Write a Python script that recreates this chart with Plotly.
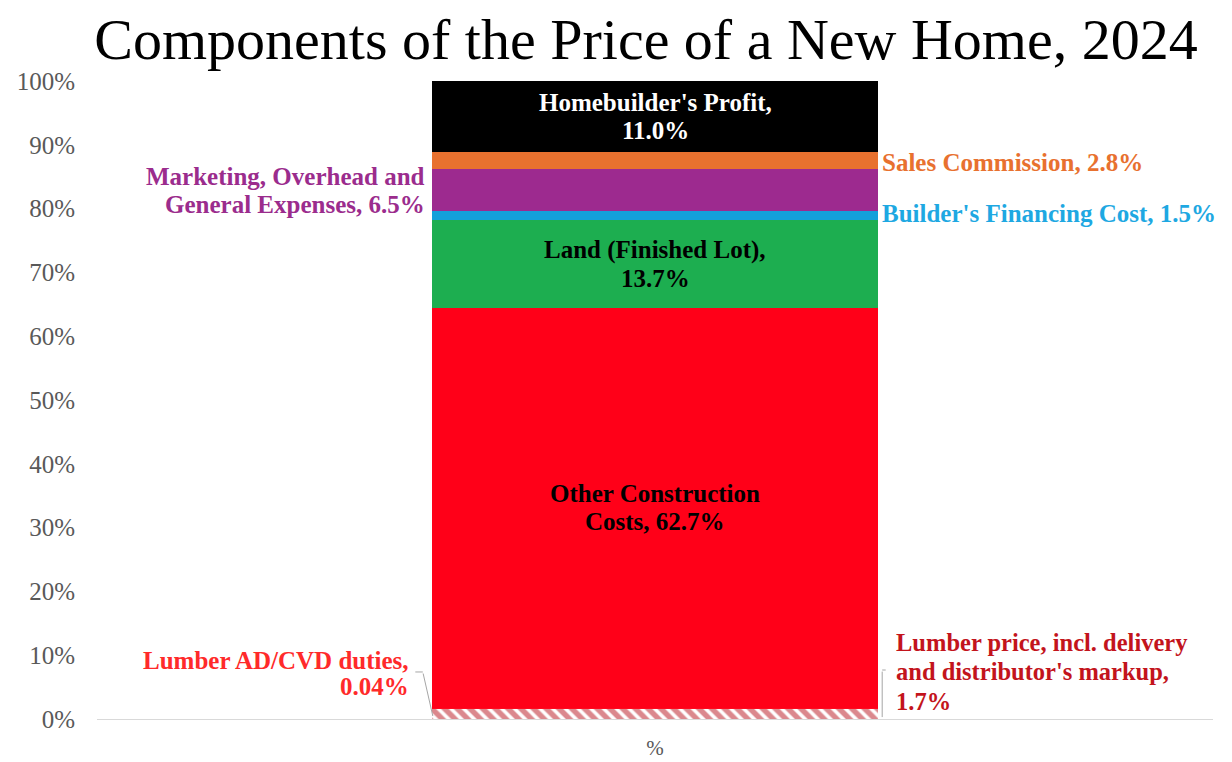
import plotly.graph_objects as go

category = ["%"]
components = [
    "Lumber price, incl. delivery and distributor's markup",
    "Lumber AD/CVD duties",
    "Other Construction Costs",
    "Land (Finished Lot)",
    "Builder's Financing Cost",
    "Marketing, Overhead and General Expenses",
    "Sales Commission",
    "Homebuilder's Profit",
]
values = [1.7, 0.04, 62.7, 13.7, 1.5, 6.5, 2.8, 11.0]
value_labels = ["1.7%", "0.04%", "62.7%", "13.7%", "1.5%", "6.5%", "2.8%", "11.0%"]
bar_colors = ["#FFFFFF", "#FF0A1E", "#FF0018", "#1DAE50", "#14A0DA", "#9D2A8F", "#E8712F", "#000000"]
y_ticks = [0, 10, 20, 30, 40, 50, 60, 70, 80, 90, 100]
y_tick_labels = [f"{t}%" for t in y_ticks]

SERIF = "Liberation Serif, Times New Roman, serif"
BAR_W = 0.4
FS = 25
LINE = 28

fig = go.Figure()
for i, (name, v, c) in enumerate(zip(components, values, bar_colors)):
    marker = dict(color=c, line=dict(width=0))
    if i == 0:
        marker["pattern"] = dict(shape="\\", fgcolor="#B8121C", bgcolor="#FFFFFF",
                                 size=9, solidity=0.6, fillmode="overlay")
    fig.add_trace(go.Bar(x=category, y=[v], name=name, width=BAR_W,
                         marker=marker, hoverinfo="name+y"))

# cumulative positions
bases = []
acc = 0
for v in values:
    bases.append(acc)
    acc += v
mids = [b + v / 2 for b, v in zip(bases, values)]

annotations = []
left = -BAR_W / 2
right = BAR_W / 2

def lab(lines, x, y, color, xanchor="center", xshift=0, yshift=0, spacing=LINE, size=FS):
    n = len(lines)
    for i, t in enumerate(lines):
        off = ((n - 1) / 2 - i) * spacing
        annotations.append(dict(text=f"<b>{t}</b>", x=x, y=y, xref="x", yref="y", showarrow=False,
                                xanchor=xanchor, yanchor="middle",
                                xshift=xshift, yshift=yshift + off,
                                font=dict(family=SERIF, size=size, color=color)))

# in-bar labels
lab(["Homebuilder's Profit,", value_labels[7]], 0, mids[7], "#FFFFFF")
lab(["Land (Finished Lot),", value_labels[3]], 0, mids[3], "#000000")
lab(["Other Construction", f"Costs, {value_labels[2]}"], 0, mids[2], "#000000")
# side labels
lab([f"Sales Commission, {value_labels[6]}"], right, mids[6], "#E8712F", xanchor="left", xshift=2, yshift=-2)
lab([f"Builder's Financing Cost, {value_labels[4]}"], right, mids[4], "#1EA8E2",
    xanchor="left", xshift=2, yshift=2)
lab(["Marketing, Overhead and", f"General Expenses, {value_labels[5]}"], left, mids[5],
    "#9B2C8D", xanchor="right", xshift=-5)
lab(["Lumber AD/CVD duties,", value_labels[1]], left, 7.2, "#FF2A2A",
    xanchor="right", xshift=-21, spacing=26)
lab(["Lumber price, incl. delivery", "and distributor's markup,", value_labels[0]], right, 7.4,
    "#C3141C", xanchor="left", xshift=16, spacing=29.5, size=24.5)

# leader lines
def leader(x, y, ax, ay, xshift=0):
    annotations.append(dict(text="", x=x, y=y, xref="x", yref="y", showarrow=True,
                            arrowhead=0, arrowwidth=1, arrowcolor="#A6A6A6",
                            ax=ax, ay=ay, axref="pixel", ayref="pixel", xshift=xshift))

leader(left, 0.47, -10, -44, xshift=1)
leader(left, 7.37, -9, 0, xshift=-9)
leader(right, 0.3, 0, -47, xshift=4)
leader(right, 7.68, 5, 0, xshift=4)

# the page has an 8px body margin, so the figure is 8px smaller than the window
W, H = 1224, 754
fig.update_layout(
    barmode="stack",
    width=W, height=H,
    margin=dict(l=89, r=19, t=73, b=43, autoexpand=False),
    paper_bgcolor="#FFFFFF", plot_bgcolor="#FFFFFF",
    showlegend=False,
    title=dict(text="Components of the Price of a New Home, 2024", xref="container", yref="container",
               x=638 / W, y=1 - 31 / H, xanchor="center", yanchor="middle",
               font=dict(family=SERIF, size=58, color="#000000")),
    annotations=annotations,
    xaxis=dict(range=[-0.5, 0.5], showline=True, linecolor="#D9D9D9", linewidth=1,
               showgrid=False, ticks="", ticklabelstandoff=10, automargin=False,
               tickfont=dict(family=SERIF, size=21, color="#595959"),
               zeroline=False, fixedrange=True),
    yaxis=dict(range=[0, 100], tickvals=y_ticks, ticktext=y_tick_labels, showgrid=False,
               zeroline=False, showline=False, ticks="", ticklabelstandoff=21, automargin=False,
               tickfont=dict(family=SERIF, size=25, color="#595959"), fixedrange=True),
)

fig.write_html("out.html")
